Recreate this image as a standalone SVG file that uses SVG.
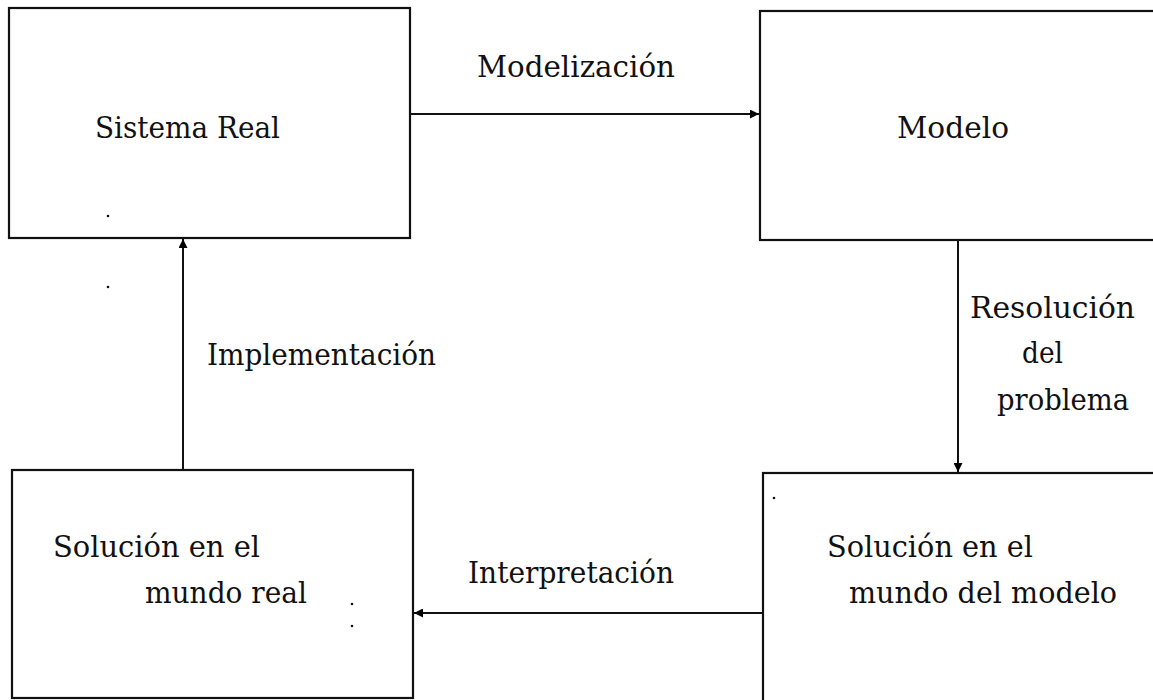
<svg xmlns="http://www.w3.org/2000/svg" width="1153" height="700" viewBox="0 0 1153 700">
<defs>
<marker id="ah" viewBox="0 0 10 10" refX="10" refY="5" markerWidth="9" markerHeight="9" markerUnits="userSpaceOnUse" orient="auto">
<path d="M0,0 L10,5 L0,10 z" fill="#000"/>
</marker>
<style>
.box{fill:#fff;stroke:#111;stroke-width:2.2}
.lbl{font-family:'DejaVu Serif','Liberation Serif',serif;font-size:29px;fill:#111}
.con{stroke:#111;stroke-width:2;fill:none;marker-end:url(#ah)}
.dot{fill:#111}
</style>
</defs>
<rect width="1153" height="700" fill="#fff"/>
<g id="sistema-real">
<rect class="box" x="9" y="8" width="401" height="230"/>
<text class="lbl" x="95" y="138" textLength="185" lengthAdjust="spacingAndGlyphs">Sistema Real</text>
<circle class="dot" cx="108" cy="216" r="1.3"/>
</g>
<g id="modelo">
<rect class="box" x="760" y="11" width="410" height="229"/>
<text class="lbl" x="897" y="138" textLength="112" lengthAdjust="spacingAndGlyphs">Modelo</text>
</g>
<g id="solucion-real">
<rect class="box" x="12" y="470" width="401" height="228"/>
<text class="lbl" x="53" y="557" textLength="207" lengthAdjust="spacingAndGlyphs">Solución en el</text>
<text class="lbl" x="145" y="603" textLength="162" lengthAdjust="spacingAndGlyphs">mundo real</text>
<circle class="dot" cx="352" cy="604" r="1.3"/>
<circle class="dot" cx="352" cy="626" r="1.3"/>
</g>
<g id="solucion-modelo">
<rect class="box" x="763" y="473" width="410" height="240"/>
<text class="lbl" x="827" y="557" textLength="206" lengthAdjust="spacingAndGlyphs">Solución en el</text>
<text class="lbl" x="849" y="603" textLength="268" lengthAdjust="spacingAndGlyphs">mundo del modelo</text>
<circle class="dot" cx="774" cy="498" r="1.3"/>
</g>
<g id="connectors">
<line class="con" x1="410" y1="114" x2="759" y2="114"/>
<line class="con" x1="958" y1="240" x2="958" y2="472"/>
<line class="con" x1="763" y1="613" x2="414" y2="613"/>
<line class="con" x1="183" y1="470" x2="183" y2="239"/>
<circle class="dot" cx="108" cy="287" r="1.3"/>
</g>
<g id="labels">
<text class="lbl" x="477" y="77" textLength="198" lengthAdjust="spacingAndGlyphs">Modelización</text>
<text class="lbl" x="970" y="318" textLength="165" lengthAdjust="spacingAndGlyphs">Resolución</text>
<text class="lbl" x="1022" y="363" textLength="41" lengthAdjust="spacingAndGlyphs">del</text>
<text class="lbl" x="997" y="410" textLength="132" lengthAdjust="spacingAndGlyphs">problema</text>
<text class="lbl" x="468" y="583" textLength="206" lengthAdjust="spacingAndGlyphs">Interpretación</text>
<text class="lbl" x="207" y="365" textLength="229" lengthAdjust="spacingAndGlyphs">Implementación</text>
</g>
</svg>
